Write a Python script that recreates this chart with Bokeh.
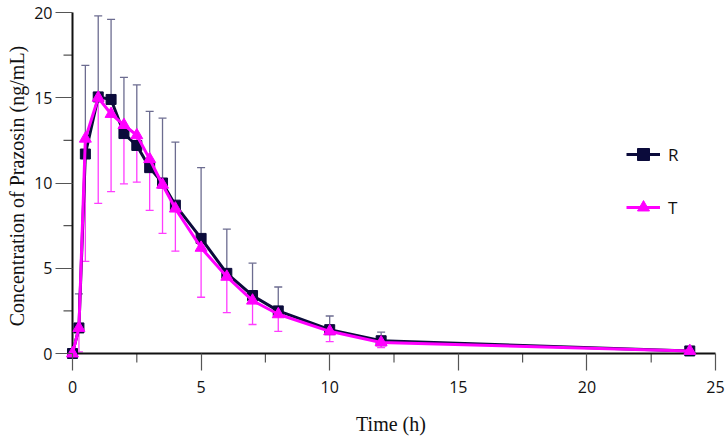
import math
from bokeh.plotting import figure
from bokeh.models import (Range1d, FixedTicker, Whisker, TeeHead, ColumnDataSource,
                          Legend, LegendItem)
from bokeh.embed import file_html
from bokeh.resources import INLINE

# ---- data ----
time_h = [0, 0.25, 0.5, 1, 1.5, 2, 2.5, 3, 3.5, 4, 5, 6, 7, 8, 10, 12, 24]
R_mean = [0, 1.5, 11.7, 15.05, 14.9, 12.9, 12.2, 10.9, 10.0, 8.7, 6.75, 4.7, 3.4, 2.5, 1.4, 0.75, 0.15]
R_sd = [0, 2.0, 5.2, 4.75, 4.7, 3.3, 3.55, 3.3, 3.8, 3.7, 4.15, 2.6, 1.9, 1.4, 0.8, 0.5, 0.1]
T_mean = [0, 1.5, 12.6, 15.0, 14.05, 13.4, 12.8, 11.4, 9.9, 8.5, 6.2, 4.5, 3.1, 2.3, 1.3, 0.65, 0.15]
T_sd = [0, 1.4, 7.2, 6.2, 4.55, 3.45, 2.75, 3.0, 2.85, 2.5, 2.9, 2.1, 1.4, 1.0, 0.6, 0.3, 0.1]
series_names = ["R", "T"]
x_ticks = [0, 5, 10, 15, 20, 25]
y_ticks = [0, 5, 10, 15, 20]
x_label = "Time (h)"
y_label = "Concentration of Prazosin (ng/mL)"

# ---- style / layout ----
R_COL = "#0b0b3b"
R_ERR = "#6c6c90"
T_COL = "#ff00ff"
T_ERR = "#ff3cff"
AX_COL = "#111111"
TICK_COL = "#555555"
TICK_FONT = "Open Sans"
LABEL_FONT = "Liberation Serif"
W, H = 726, 440
FL, FR, FT, FB = 55, 726, 1, 370          # frame edges in figure px
MAJ, MIN = 17, 9                          # tick lengths px
X_AT_MAX = 715                            # px of last x tick
Y_AT_MAX = 12                             # px of last y tick

sx = (X_AT_MAX - (FL + MAJ)) / x_ticks[-1]
sy = ((FB - MAJ) - Y_AT_MAX) / y_ticks[-1]
x0 = -MAJ / sx
x1 = x0 + (FR - FL) / sx
y0 = -MAJ / sy
y1 = y0 + (FB - FT) / sy

src = ColumnDataSource(dict(
    t=time_h, r=R_mean, r_hi=[m + s for m, s in zip(R_mean, R_sd)],
    tt=T_mean, t_lo=[m - s for m, s in zip(T_mean, T_sd)],
))

p = figure(width=W, height=H, x_range=Range1d(x0, x1), y_range=Range1d(y0, y1),
           output_backend="svg", toolbar_location=None,
           min_border_left=FL, min_border_right=W - FR, min_border_top=FT, min_border_bottom=H - FB)
p.outline_line_color = None
p.xgrid.grid_line_color = None
p.ygrid.grid_line_color = None

for ax, ticks in ((p.xaxis[0], x_ticks), (p.yaxis[0], y_ticks)):
    ax.ticker = FixedTicker(ticks=ticks)
    ax.axis_line_color = None
    ax.major_tick_line_color = TICK_COL
    ax.major_tick_line_width = 1.2
    ax.major_tick_in = MAJ
    ax.major_tick_out = 0
    ax.minor_tick_line_color = None
    ax.major_label_text_font = TICK_FONT
    ax.major_label_text_font_size = "16px"
    ax.major_label_text_color = AX_COL
    ax.axis_label_text_font = LABEL_FONT
    ax.axis_label_text_font_size = "20px"
    ax.axis_label_text_font_style = "normal"
    ax.axis_label_text_color = AX_COL
p.xaxis.axis_label = x_label
p.yaxis.axis_label = y_label
p.xaxis.major_label_standoff = 10
p.xaxis.axis_label_standoff = 17
p.yaxis.major_label_standoff = 3
p.yaxis.axis_label_standoff = 3

# minor ticks (halfway between majors), hanging outward from the axis lines
xm = [(a + b) / 2 for a, b in zip(x_ticks[:-1], x_ticks[1:])]
ym = [(a + b) / 2 for a, b in zip(y_ticks[:-1], y_ticks[1:])]
p.segment(x0=xm, y0=[0] * len(xm), x1=xm, y1=[-MIN / sy] * len(xm), line_color=TICK_COL, line_width=1.2)
p.segment(x0=[0] * len(ym), y0=ym, x1=[-MIN / sx] * len(ym), y1=ym, line_color=TICK_COL, line_width=1.2)
# axis lines
p.segment(x0=[x_ticks[0], x_ticks[0]], y0=[y_ticks[0], y_ticks[0]],
          x1=[x_ticks[-1], x_ticks[0]], y1=[y_ticks[0], y_ticks[-1]], line_color=AX_COL, line_width=2)

# error bars
p.add_layout(Whisker(source=src, base="t", lower="r", upper="r_hi", dimension="height",
                     line_color=R_ERR, line_width=1.3,
                     upper_head=TeeHead(size=8, line_color=R_ERR, line_width=1.3), lower_head=None))
p.add_layout(Whisker(source=src, base="t", lower="t_lo", upper="tt", dimension="height",
                     line_color=T_ERR, line_width=1.3,
                     lower_head=TeeHead(size=8, line_color=T_ERR, line_width=1.3), upper_head=None))

rl = p.line("t", "r", source=src, line_color=R_COL, line_width=3)
rm = p.scatter("t", "r", source=src, marker="square", size=10, fill_color=R_COL, line_color=R_COL)
tl = p.line("t", "tt", source=src, line_color=T_COL, line_width=3)
tm = p.scatter("t", "tt", source=src, marker="triangle", size=12, fill_color=T_COL, line_color=T_COL)

legend = Legend(items=[LegendItem(label=series_names[0], renderers=[rl, rm]),
                       LegendItem(label=series_names[1], renderers=[tl, tm])],
                location=(571, 148), orientation="vertical",
                glyph_width=34, glyph_height=30, spacing=23, padding=0, margin=0,
                label_standoff=8, label_text_font=TICK_FONT, label_text_font_size="17px",
                label_text_color=AX_COL, border_line_color=None, background_fill_alpha=0)
p.add_layout(legend)

open("out.html", "w").write(file_html(p, INLINE))
